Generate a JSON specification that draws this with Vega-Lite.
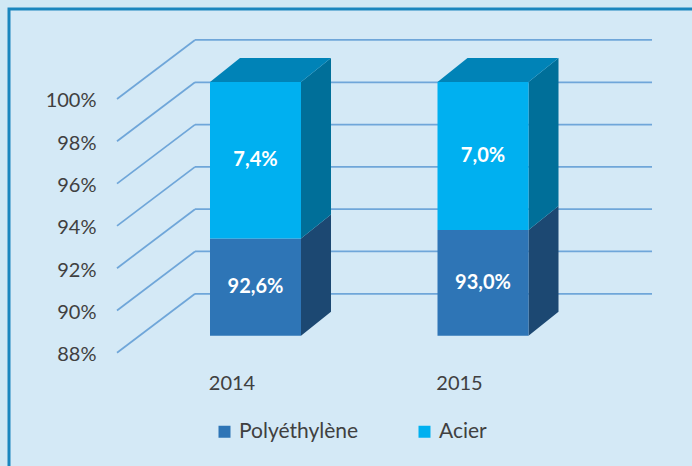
{
  "$schema": "https://vega.github.io/schema/vega-lite/v6.json",
  "width": 688,
  "height": 462,
  "autosize": {"type": "none"},
  "padding": {"left": 9, "top": 9, "right": -5, "bottom": -5},
  "background": "#d0e8f4",
  "config": {
    "font": "Lato",
    "view": {"stroke": "#1a86bd", "strokeWidth": 3, "fill": "#d4e9f6"}
  },
  "data": {
    "values": [
      {"year": 2014, "material": "Polyéthylène", "value": 92.6},
      {"year": 2014, "material": "Acier", "value": 7.4},
      {"year": 2015, "material": "Polyéthylène", "value": 93.0},
      {"year": 2015, "material": "Acier", "value": 7.0}
    ]
  },
  "layer": [
    {
      "data": {"values": [{"tick": 88}, {"tick": 90}, {"tick": 92}, {"tick": 94}, {"tick": 96}, {"tick": 98}, {"tick": 100}]},
      "transform": [
        {"calculate": "datum.tick - 0.8038", "as": "yf"},
        {"calculate": "datum.tick + 1.9858", "as": "yb"}
      ],
      "layer": [
        {
          "mark": {"type": "rule", "stroke": "#6fa6d9", "strokeWidth": 1.75},
          "encoding": {
            "x": {"datum": 2013.3912, "type": "quantitative", "title": null, "scale": {"domain": [2012.91648, 2015.94066], "nice": false, "zero": false}},
            "x2": {"datum": 2013.7341},
            "y": {"field": "yf", "type": "quantitative", "title": null, "scale": {"domain": [81.6075, 103.4515], "nice": false, "zero": false}},
            "y2": {"field": "yb"}
          }
        },
        {
          "mark": {"type": "rule", "stroke": "#6fa6d9", "strokeWidth": 1.75},
          "encoding": {
            "x": {"datum": 2013.7341, "type": "quantitative", "title": null},
            "x2": {"datum": 2015.7429},
            "y": {"field": "yb", "type": "quantitative", "title": null}
          }
        }
      ]
    },
    {
      "transform": [
        {"stack": "value", "groupby": ["year"], "sort": [{"field": "material", "order": "descending"}], "as": ["lo", "hi"]},
        {"calculate": "max(datum.lo, 88)", "as": "b"},
        {"calculate": "datum.year - 0.2", "as": "xl"},
        {"calculate": "datum.year + 0.2", "as": "xr"},
        {"calculate": "(datum.b + datum.hi) / 2", "as": "mid"},
        {"calculate": "replace(format(datum.value, '.1f'), '.', ',') + '%'", "as": "lbl"}
      ],
      "layer": [
        {
          "transform": [
            {"calculate": "[0, 1]", "as": "e"},
            {"flatten": ["e"]},
            {"calculate": "datum.xr + datum.e * 0.13187", "as": "sx"},
            {"calculate": "datum.hi + datum.e * 1.1348", "as": "sy"},
            {"calculate": "datum.b + datum.e * 1.1348", "as": "sy2"}
          ],
          "mark": {"type": "area", "orient": "vertical"},
          "encoding": {
            "x": {"field": "sx", "type": "quantitative", "title": null},
            "y": {"field": "sy", "type": "quantitative", "title": null},
            "y2": {"field": "sy2"},
            "detail": [{"field": "year"}, {"field": "material"}],
            "fill": {"condition": {"test": "datum.material === 'Acier'", "value": "#006f99"}, "value": "#1c4872"}
          }
        },
        {
          "transform": [
            {"filter": "datum.material === 'Acier'"},
            {"calculate": "[0, 1]", "as": "e"},
            {"flatten": ["e"]},
            {"calculate": "datum.xl + datum.e * 0.13187", "as": "tx1"},
            {"calculate": "datum.xr + datum.e * 0.13187", "as": "tx2"},
            {"calculate": "datum.hi + datum.e * 1.1348", "as": "ty"}
          ],
          "mark": {"type": "area", "orient": "horizontal", "fill": "#0083b7"},
          "encoding": {
            "y": {"field": "ty", "type": "quantitative", "title": null},
            "x": {"field": "tx1", "type": "quantitative", "title": null},
            "x2": {"field": "tx2"},
            "detail": {"field": "year"}
          }
        },
        {
          "mark": {"type": "rect"},
          "encoding": {
            "x": {
              "field": "xl", "type": "quantitative", "title": null,
              "axis": {"orient": "bottom", "offset": -88, "values": [2014, 2015], "format": "d", "labelOffset": -24, "labelBaseline": "middle", "labelPadding": 0, "ticks": false, "tickSize": 0, "domain": false, "grid": false, "title": null, "labelFontSize": 20, "labelColor": "#404040", "labelFlush": false, "labelOverlap": false, "labelBound": false, "labelFont": "Lato"}
            },
            "x2": {"field": "xr"},
            "y": {
              "field": "b", "type": "quantitative", "title": null,
              "axis": {"orient": "left", "offset": -87, "values": [88, 90, 92, 94, 96, 98, 100], "labelExpr": "datum.value + '%'", "labelOffset": 19, "labelPadding": 0, "ticks": false, "tickSize": 0, "domain": false, "grid": false, "title": null, "labelFontSize": 20, "labelColor": "#404040", "labelOverlap": false, "labelFlush": false, "labelBound": false, "labelFont": "Lato"}
            },
            "y2": {"field": "hi"},
            "color": {
              "field": "material", "type": "nominal",
              "scale": {"domain": ["Polyéthylène", "Acier"], "range": ["#2e75b6", "#00b0f0"]},
              "legend": {"orient": "none", "legendX": 205, "legendY": 412, "direction": "horizontal", "symbolType": "square", "symbolSize": 144, "symbolStrokeWidth": 0, "labelFontSize": 21, "labelColor": "#404040", "labelFont": "Lato", "title": null, "columnPadding": 55, "labelOffset": 4, "padding": 0}
            }
          }
        },
        {
          "mark": {"type": "text", "color": "white", "fontWeight": "bold", "fontSize": 20, "font": "Lato", "baseline": "middle", "align": "center"},
          "encoding": {
            "x": {"field": "year", "type": "quantitative", "title": null},
            "y": {"field": "mid", "type": "quantitative", "title": null},
            "text": {"field": "lbl"}
          }
        }
      ]
    }
  ]
}
